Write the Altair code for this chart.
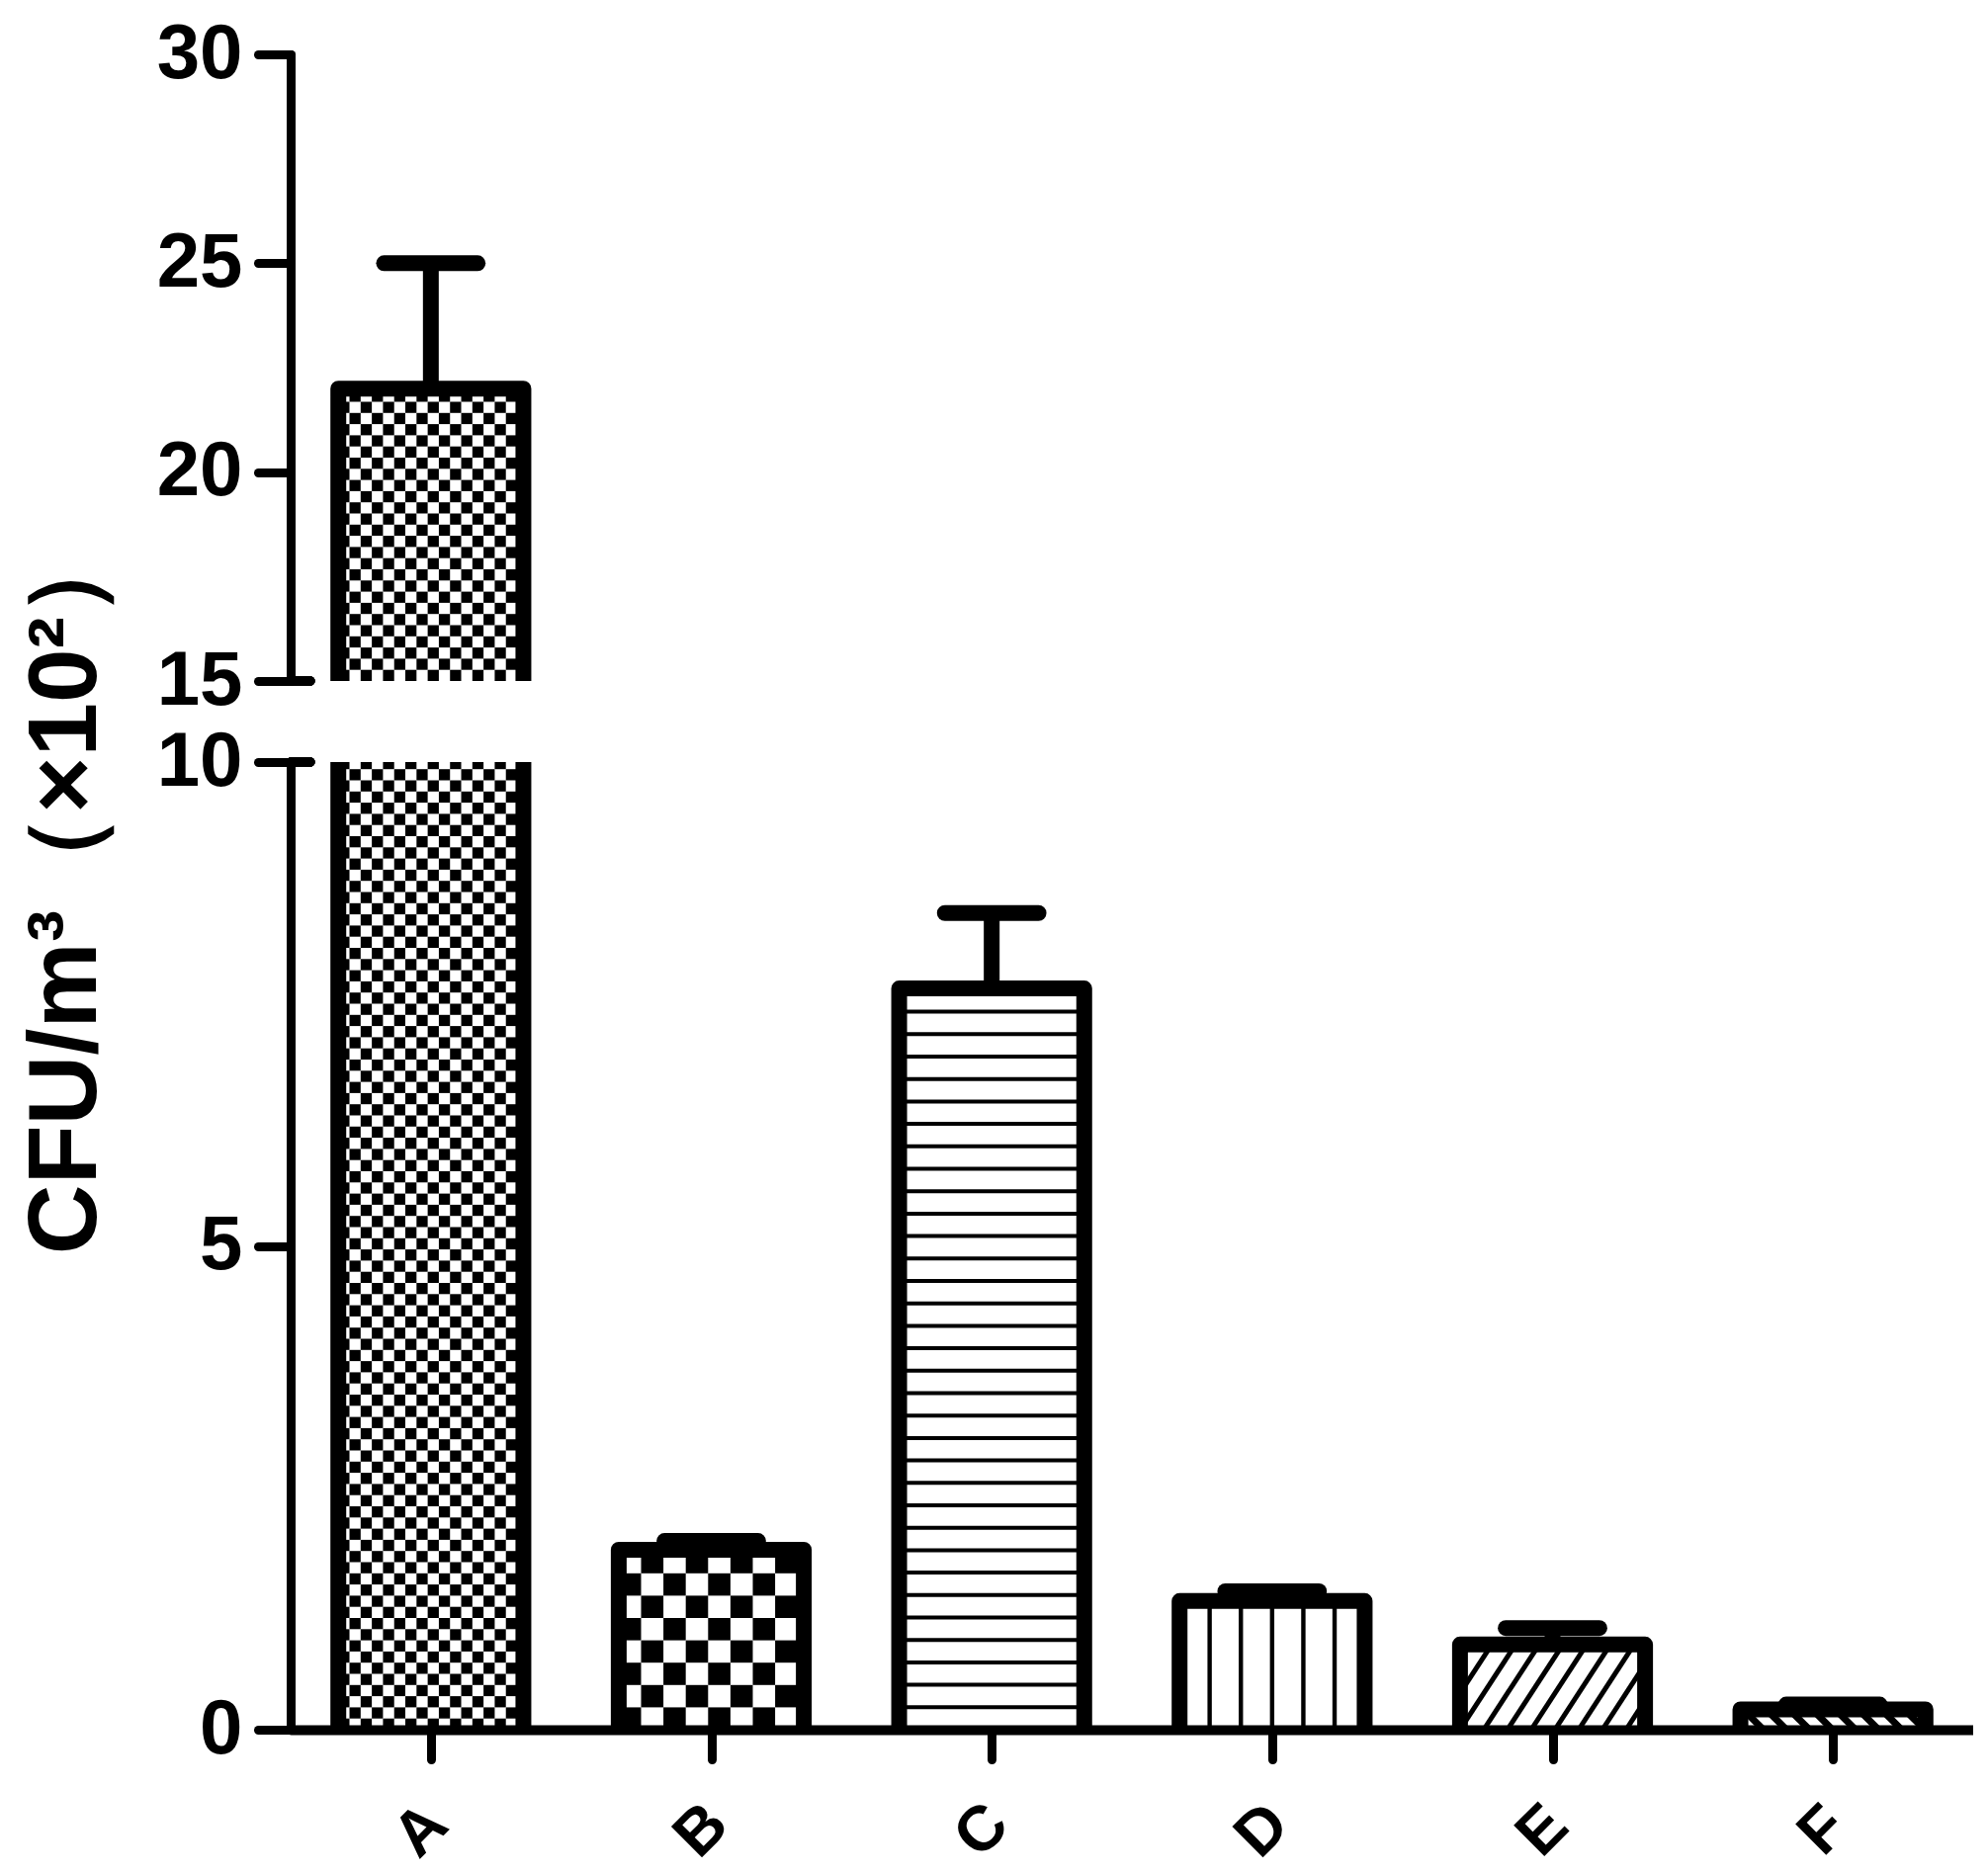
import math
import altair as alt
import pandas as pd

# ---------------- data ----------------
categories = ["A", "B", "C", "D", "E", "F"]
means = [22.0, 1.86, 7.66, 1.33, 0.88, 0.21]
upper_ends = [25.0, 1.95, 8.44, 1.43, 1.05, 0.26]
fills = ["fine_check", "coarse_check", "hlines", "vlines", "diag", "backdiag"]

upper_ticks = [15, 20, 25, 30]
lower_ticks = [0, 5, 10]
upper_domain = [15, 30]
lower_domain = [0, 10]
y_title = "CFU/m³（×10²）"

# ---------------- layout / style ----------------
W = 1702
H_UP = 634
H_LO = 979
GAP = 82
HALF = 0.33      # half bar width (category units)
CAP = 0.167      # half error-cap width (category units)
STROKE = 16
FONT = "Liberation Sans"
KX = W / len(categories)
X_DOMAIN = [-0.5, len(categories) - 0.5]


def build_patterns(y0, y1, ky):
    rects, lines = [], []
    for i, (v, pat) in enumerate(zip(means, fills)):
        left, right = i - HALF, i + HALF
        bot, top = max(0.0, y0), min(v, y1)
        if top <= bot:
            continue
        if pat in ("fine_check", "coarse_check"):
            cell = 11.3 if pat == "fine_check" else 22.6
            cw, ch = cell / KX, cell / ky
            nc = math.ceil((right - left) / cw - 1e-9)
            nr = math.ceil((top - bot) / ch - 1e-9)
            for r in range(nr):
                for c in range(nc):
                    if (r + c) % 2 == 0:
                        rects.append(dict(x=left + c * cw, x2=min(left + (c + 1) * cw, right),
                                          y=bot + r * ch, y2=min(bot + (r + 1) * ch, top)))
        elif pat == "hlines":
            sp = 22.7 / ky
            k = 1
            while k * sp < v - 0.3 * sp:
                yv = k * sp
                if bot <= yv <= top:
                    lines.append(dict(x=left, x2=right, y=yv, y2=yv, sw=4))
                k += 1
        elif pat == "vlines":
            for k in range(-2, 3):
                xv = i + k * 31.6 / KX
                lines.append(dict(x=xv, x2=xv, y=bot, y2=top, sw=4.4))
        else:
            if pat == "diag":
                m, sp, sw, sign = 0.651, 24.0, 5.0, 1
            else:
                m, sp, sw, sign = 1.0, 23.3, 7.0, -1
            wb = (right - left) * KX
            Y0, Y1 = bot * ky, top * ky
            if sign == 1:
                cmin, cmax = -m * Y1, wb
            else:
                cmin, cmax = 0.0, wb + m * Y1
            for k in range(math.floor(cmin / sp), math.ceil(cmax / sp) + 1):
                c = k * sp
                if sign == 1:
                    lo, hi = (0 - c) / m, (wb - c) / m
                else:
                    lo, hi = (c - wb) / m, c / m
                ya, yb = max(Y0, lo), min(Y1, hi)
                if yb - ya > 0.5:
                    xa = c + sign * m * ya
                    xb = c + sign * m * yb
                    lines.append(dict(x=left + xa / KX, x2=left + xb / KX,
                                      y=ya / ky, y2=yb / ky, sw=sw))
    return rects, lines


outline_rows = []
for i, v in enumerate(means):
    pts = [(i - HALF, 0.0), (i - HALF, v), (i + HALF, v), (i + HALF, 0.0)]
    for k, (xv, yv) in enumerate(pts):
        outline_rows.append(dict(bar=categories[i], k=k, x=xv, y=yv))
outline_df = pd.DataFrame(outline_rows)

err_df = pd.DataFrame(dict(
    i=list(range(len(categories))),
    mean=means,
    upper=upper_ends,
    cl=[i - CAP for i in range(len(categories))],
    cr=[i + CAP for i in range(len(categories))],
))

yaxis_common = dict(
    domainColor="black", domainWidth=9, domainCap="round",
    tickColor="black", tickWidth=9, tickSize=33, tickCap="round",
    labelFont=FONT, labelFontWeight="bold", labelFontSize=78, labelColor="black",
    labelPadding=16, grid=False, format="d",
)

label_expr = "[" + ",".join("'%s'" % c for c in categories) + "][datum.value]"


def panel(y_domain, height, yaxis, xaxis, y_break):
    ky = height / (y_domain[1] - y_domain[0])
    rects, lines = build_patterns(y_domain[0], y_domain[1], ky)
    xs = alt.Scale(domain=X_DOMAIN, nice=False, zero=False)
    ys = alt.Scale(domain=y_domain, nice=False, zero=False)

    def X(f):
        return alt.X(f, type="quantitative", scale=xs, axis=xaxis, title=None)

    def Y(f):
        return alt.Y(f, type="quantitative", scale=ys, axis=yaxis)

    layers = []
    if rects:
        layers.append(alt.Chart(pd.DataFrame(rects)).mark_rect(color="black", clip=True)
                      .encode(x=X("x"), x2="x2", y=Y("y"), y2="y2"))
    if lines:
        layers.append(alt.Chart(pd.DataFrame(lines)).mark_rule(color="black", clip=True, strokeCap="butt")
                      .encode(x=X("x"), x2="x2", y=Y("y"), y2="y2",
                              strokeWidth=alt.StrokeWidth("sw:Q", scale=None)))
    layers.append(alt.Chart(outline_df).mark_line(color="black", strokeWidth=STROKE,
                                                 strokeJoin="round", clip=True)
                  .encode(x=X("x"), y=Y("y"), detail="bar:N", order="k:Q"))
    layers.append(alt.Chart(err_df).mark_rule(color="black", strokeWidth=STROKE, clip=True)
                  .encode(x=X("i"), y=Y("mean"), y2="upper"))
    layers.append(alt.Chart(err_df).mark_rule(color="black", strokeWidth=STROKE,
                                             strokeCap="round", clip=True)
                  .encode(x=X("cl"), x2="cr", y=Y("upper")))
    layers.append(alt.Chart(err_df).mark_rule(color="black", strokeWidth=9, strokeCap="round")
                  .encode(x=alt.datum(X_DOMAIN[0]), x2=alt.datum(X_DOMAIN[0] + 20 / KX),
                          y=alt.datum(y_break)))
    return alt.layer(*layers).properties(width=W, height=height)


upper_axis = alt.Axis(values=upper_ticks, title=None, **yaxis_common)
lower_axis = alt.Axis(values=lower_ticks, title=y_title, titleFont=FONT, titleFontSize=98,
                      titleFontWeight="bold", titleColor="black", titleAngle=270,
                      titleX=-198, titleY=126, titleAlign="center", titleBaseline="alphabetic",
                      **yaxis_common)
x_axis = alt.Axis(values=list(range(len(categories))), labelExpr=label_expr, title=None,
                  domainColor="black", domainWidth=10, domainCap="round",
                  tickColor="black", tickWidth=9, tickSize=30, tickCap="round",
                  labelAngle=315, labelAlign="center", labelBaseline="middle",
                  labelPadding=72, labelOffset=-10, labelFont=FONT, labelFontWeight="bold",
                  labelFontSize=64, labelColor="black", labelFlush=False, labelOverlap=False,
                  grid=False)

upper = panel(upper_domain, H_UP, upper_axis, None, upper_domain[0])
lower = panel(lower_domain, H_LO, lower_axis, x_axis, lower_domain[1])

chart = (alt.vconcat(upper, lower, spacing=GAP, bounds="flush")
         .properties(padding={"left": 10, "top": 8, "right": 0, "bottom": 0}, background="white")
         .configure_view(stroke=None))

chart.save("out.html", embed_options={"renderer": "svg", "actions": False})
